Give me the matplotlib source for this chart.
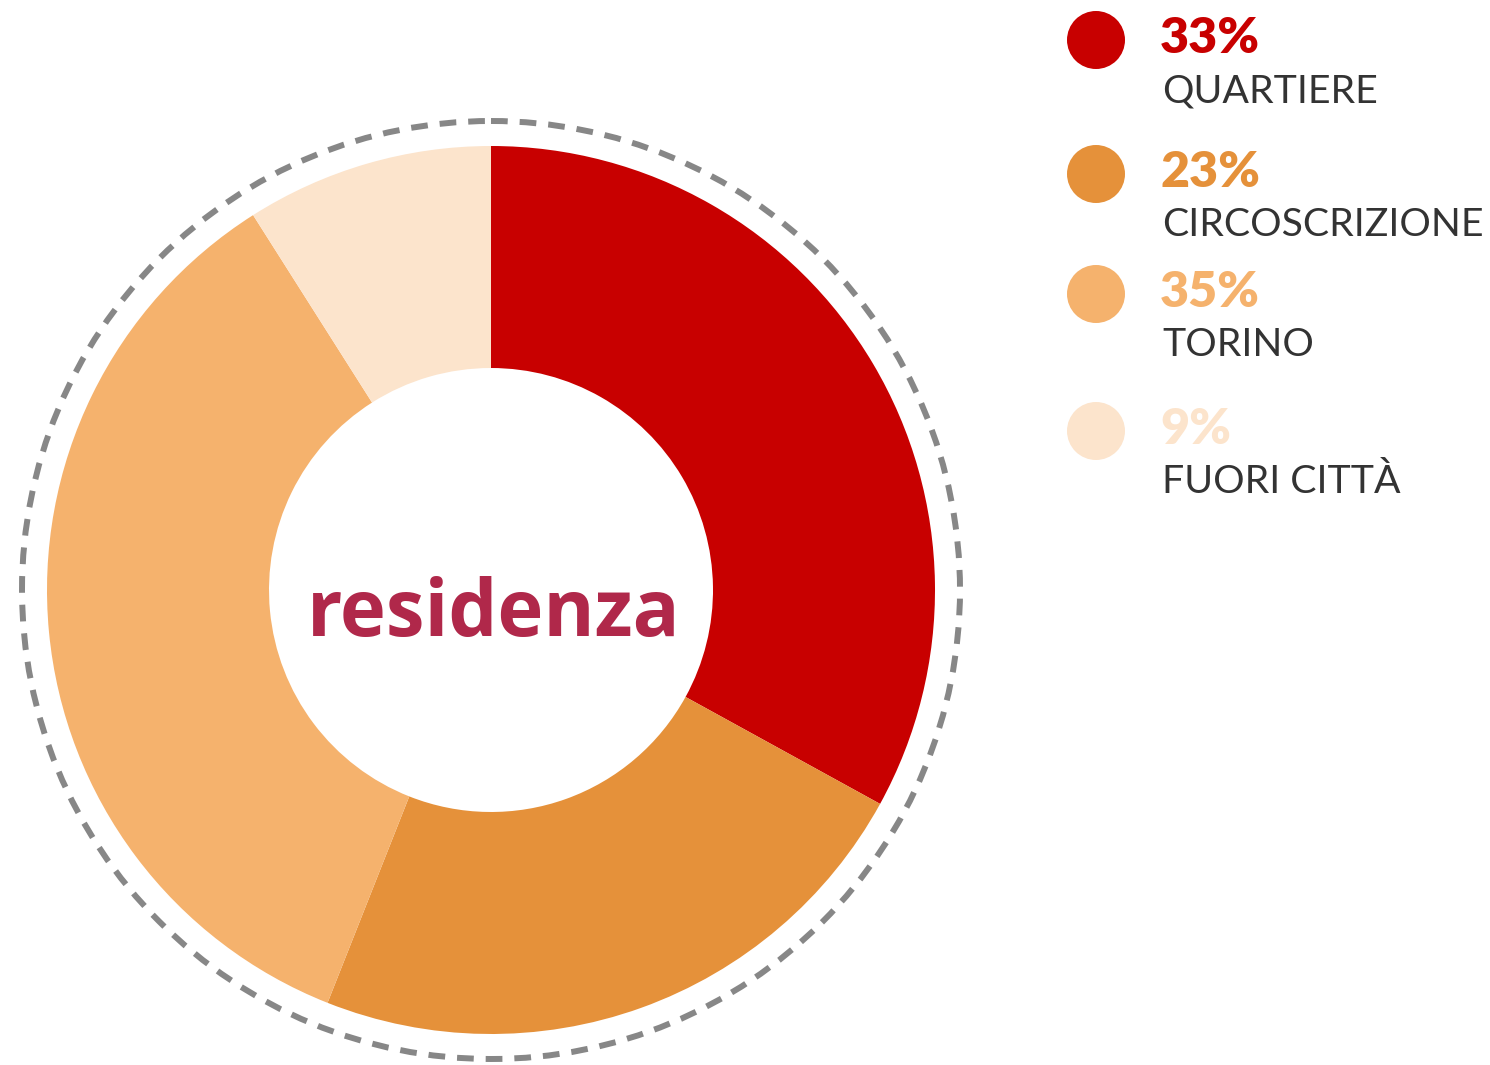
import matplotlib.pyplot as plt
from matplotlib.patches import Circle

# dati
categorie = ["QUARTIERE", "CIRCOSCRIZIONE", "TORINO", "FUORI CITTÀ"]
valori = [33, 23, 35, 9]
colori = ["#C80000", "#E5913A", "#F5B26D", "#FCE4CC"]
titolo = "residenza"

W, H = 1490, 1065
fig = plt.figure(figsize=(W / 100, H / 100), dpi=100)
ax = fig.add_axes([0, 0, 1, 1])

cx, cy, R = 491, 590, 444

# ciambella: asse y invertito, quindi -90 = in alto e senso orario sullo schermo
ax.pie(valori, colors=colori, startangle=-90, counterclock=True,
       radius=R, center=(cx, cy), frame=True,
       wedgeprops=dict(width=R / 2, linewidth=0))
ax.set_xlim(0, W)
ax.set_ylim(H, 0)
ax.set_aspect("equal")
ax.axis("off")

# cerchio tratteggiato
ax.add_patch(Circle((cx, cy), 469, fill=False, edgecolor="#878787",
                    linewidth=4.3, linestyle=(0, (2.8, 2.0))))

ax.text(cx + 3, cy + 46, titolo, ha="center", va="baseline", fontsize=56,
        fontweight="bold", color="#B0284A", family="Open Sans")

# legenda
ys = [40, 174, 294, 431]
for i, (cat, v) in enumerate(zip(categorie, valori)):
    y = ys[i]
    ax.add_patch(Circle((1096, y), 29, color=colori[i], linewidth=0))
    ax.text(1160, y + 13, f"{v}%", ha="left", va="baseline", fontsize=36,
            fontweight="heavy", color=colori[i], family="Lato")
    ax.text(1162, y + 62, cat, ha="left", va="baseline", fontsize=28.3,
            fontweight="normal", color="#333333", family="Lato")

fig.savefig("out.png", dpi=100)
